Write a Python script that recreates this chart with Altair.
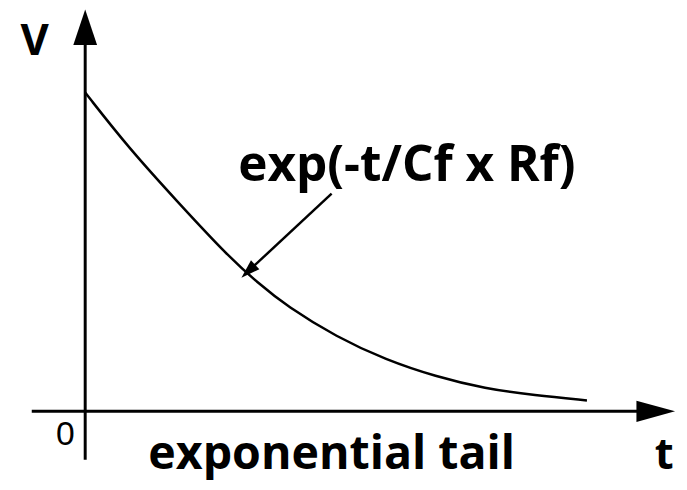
import altair as alt
import pandas as pd

# ---- data (t in time units, V normalised so V(0)=1) ----
curve_t = [0.0, 0.88, 1.88, 2.88, 3.48, 4.08, 5.08, 6.08, 7.08, 8.08, 9.08, 10.14]
curve_v = [1.0, 0.826, 0.655, 0.488, 0.404, 0.329, 0.233, 0.161, 0.109, 0.071, 0.050, 0.034]

formula_label = "exp(-t/Cf x Rf)"
caption_label = "exponential tail"
y_label = "V"
x_label = "t"
origin_label = "0"

# ---- layout (data units) ----
T_DOMAIN = [-1.56, 12.0]
V_DOMAIN = [-0.2143, 1.2578]
W, H = 678, 474

xs = alt.Scale(domain=T_DOMAIN, nice=False, zero=False)
ys = alt.Scale(domain=V_DOMAIN, nice=False, zero=False)


def X(f="t"):
    return alt.X(f"{f}:Q", scale=xs, axis=None)


def Y(f="v"):
    return alt.Y(f"{f}:Q", scale=ys, axis=None)


axes_df = pd.DataFrame({
    "t": [-1.08, 0.0], "t2": [11.2, 0.0],
    "v": [0.0, -0.152], "v2": [0.0, 1.2],
})
axes = alt.Chart(axes_df).mark_rule(color="black", strokeWidth=3).encode(
    x=X(), x2="t2:Q", y=Y(), y2="v2:Q")

up_head = alt.Chart(pd.DataFrame({"t": [0.0], "v": [1.205]})).mark_point(
    shape="M0,-1L0.667,1L-0.667,1Z", size=1296, filled=True, color="black",
    opacity=1, strokeWidth=0).encode(x=X(), y=Y())

right_head = alt.Chart(pd.DataFrame({"t": [11.53], "v": [0.0]})).mark_point(
    shape="M1,0L-1,-0.55L-1,0.55Z", size=1521, filled=True, color="black",
    opacity=1, strokeWidth=0).encode(x=X(), y=Y())

curve = alt.Chart(pd.DataFrame({"t": curve_t, "v": curve_v})).mark_line(
    color="black", strokeWidth=2.5, interpolate="basis").encode(x=X(), y=Y())

ann_line = alt.Chart(pd.DataFrame({"t": [4.98], "v": [0.683], "t2": [3.296], "v2": [0.4394]})).mark_rule(
    color="black", strokeWidth=2.5).encode(x=X(), y=Y(), x2="t2:Q", y2="v2:Q")

ann_head = alt.Chart(pd.DataFrame({"t": [3.296], "v": [0.4394]})).mark_point(
    shape="M0,-1L0.65,1L-0.65,1Z", size=361, angle=227, filled=True, color="black",
    opacity=1, strokeWidth=0).encode(x=X(), y=Y())


def label(text, t, v, size, weight="bold", font="Open Sans"):
    return alt.Chart(pd.DataFrame({"t": [t], "v": [v], "s": [text]})).mark_text(
        font=font, fontSize=size, fontWeight=weight, color="black",
        align="center", baseline="alphabetic").encode(x=X(), y=Y(), text="s:N")


texts = [
    label(y_label, -1.02, 1.118, 44),
    label(formula_label, 6.5, 0.7236, 50),
    label(caption_label, 4.98, -0.180, 47),
    label(x_label, 11.70, -0.180, 44),
    label(origin_label, -0.4, -0.1056, 34, weight="normal", font="Liberation Sans"),
]

chart = alt.layer(axes, up_head, right_head, curve, ann_line, ann_head, *texts).properties(
    width=W, height=H, padding=0, autosize=alt.AutoSizeParams(type="none"),
    background="white",
).configure_view(stroke=None)

chart.save("out.html", embed_options={"renderer": "svg", "actions": False})
